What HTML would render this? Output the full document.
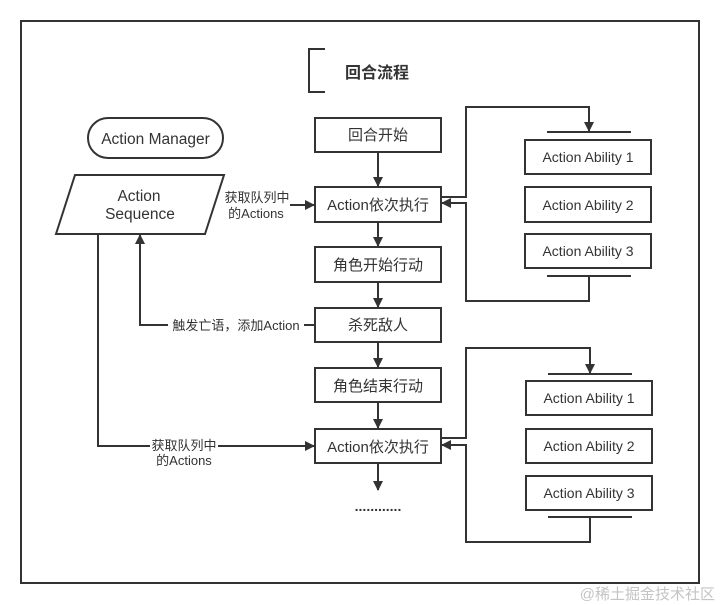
<!DOCTYPE html>
<html><head><meta charset="utf-8"><style>
html,body{margin:0;padding:0;background:#fff;width:720px;height:605px;overflow:hidden}
text{font-family:"Liberation Sans","Noto Sans CJK SC",sans-serif;fill:#333}
</style></head><body>
<svg width="720" height="605" xmlns="http://www.w3.org/2000/svg">
<defs><marker id="a" markerWidth="10" markerHeight="10" refX="9" refY="5" orient="auto" markerUnits="userSpaceOnUse"><path d="M0,0 L10,5 L0,10 z" fill="#333"/></marker></defs>
<g fill="none" stroke="#333" stroke-width="2">
<rect x="21" y="21" width="678" height="562" stroke-width="2"/>
<path d="M325,49 H309 V92 H325"/>
<rect x="88" y="118" width="135" height="40" rx="20"/>
<path d="M75,175 H224 L205,234 H56 Z"/>
<rect x="315" y="118" width="126" height="34"/>
<rect x="315" y="187" width="126" height="35"/>
<rect x="315" y="247" width="126" height="35"/>
<rect x="315" y="308" width="126" height="34"/>
<rect x="315" y="368" width="126" height="34"/>
<rect x="315" y="429" width="126" height="34"/>
<rect x="525" y="140" width="126" height="34"/>
<rect x="525" y="187" width="126" height="35"/>
<rect x="525" y="234" width="126" height="34"/>
<rect x="526" y="381" width="126" height="34"/>
<rect x="526" y="429" width="126" height="34"/>
<rect x="526" y="476" width="126" height="34"/>
<path d="M547,132 H631 M547,276 H631 M548,374 H632 M548,517 H632"/>
<path d="M378,152 V186" marker-end="url(#a)"/>
<path d="M378,222 V246" marker-end="url(#a)"/>
<path d="M378,282 V307" marker-end="url(#a)"/>
<path d="M378,342 V367" marker-end="url(#a)"/>
<path d="M378,402 V428" marker-end="url(#a)"/>
<path d="M378,463 V490" marker-end="url(#a)"/>
<path d="M441,197 H466 V107 H589 V131" marker-end="url(#a)"/>
<path d="M589,276 V301 H466 V203 H442" marker-end="url(#a)"/>
<path d="M441,438 H466 V348 H590 V373" marker-end="url(#a)"/>
<path d="M590,517 V542 H466 V445 H442" marker-end="url(#a)"/>
<path d="M290,205 H314" marker-end="url(#a)"/>
<path d="M98,234 V446 H150 M218,446 H314" marker-end="url(#a)"/>
<path d="M168,325 H140 V235" marker-end="url(#a)"/>
<path d="M304,325 H315"/>
</g>
<text x="345" y="78" font-size="16" font-weight="bold">回合流程</text>
<text x="155.5" y="144" font-size="15.5" text-anchor="middle">Action Manager</text>
<text x="139" y="201" font-size="15.5" text-anchor="middle">Action</text>
<text x="140" y="219" font-size="15.5" text-anchor="middle">Sequence</text>
<text x="257" y="202" font-size="13" text-anchor="middle">获取队列中</text>
<text x="256" y="218" font-size="13" text-anchor="middle">的Actions</text>
<text x="184" y="450" font-size="13" text-anchor="middle">获取队列中</text>
<text x="184" y="459" font-size="13" text-anchor="middle" dy="6">的Actions</text>
<text x="236" y="330" font-size="13" text-anchor="middle">触发亡语，添加Action</text>
<g font-size="15" text-anchor="middle">
<text x="378" y="140">回合开始</text>
<text x="378" y="210">Action依次执行</text>
<text x="378" y="270">角色开始行动</text>
<text x="378" y="330">杀死敌人</text>
<text x="378" y="391">角色结束行动</text>
<text x="378" y="452">Action依次执行</text>
</g>
<g font-size="14" text-anchor="middle">
<text x="588" y="162">Action Ability 1</text>
<text x="588" y="210">Action Ability 2</text>
<text x="588" y="256">Action Ability 3</text>
<text x="589" y="403">Action Ability 1</text>
<text x="589" y="451">Action Ability 2</text>
<text x="589" y="498">Action Ability 3</text>
</g>
<text x="378" y="511" font-size="14" font-weight="bold" text-anchor="middle">............</text>
<text x="715" y="599" font-size="15" text-anchor="end" style="fill:#c4c4c4">@稀土掘金技术社区</text>
</svg>
</body></html>
